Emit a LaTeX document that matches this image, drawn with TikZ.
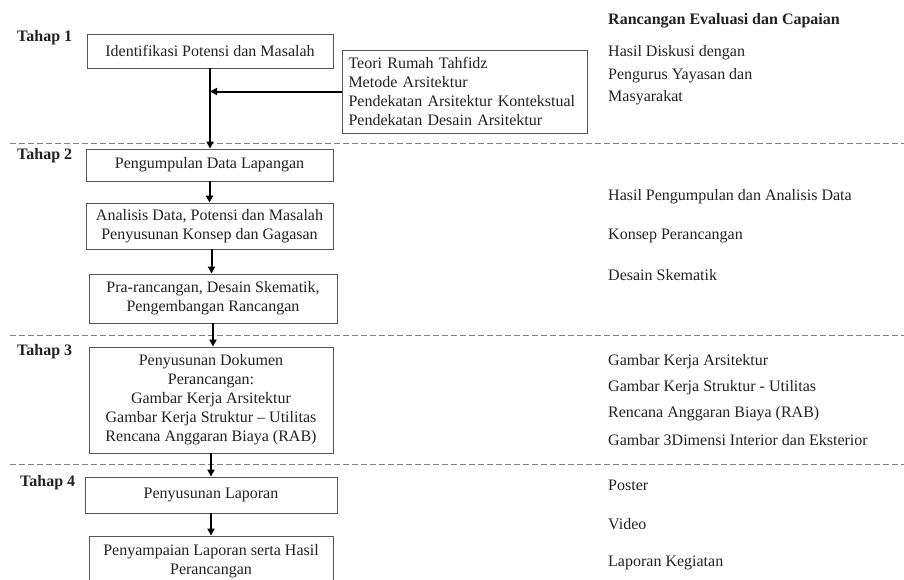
\documentclass[tikz,border=0pt]{standalone}
\usepackage{fontspec}
\setmainfont{Liberation Serif}
\usetikzlibrary{arrows.meta}
\definecolor{txt}{HTML}{222222}
\definecolor{boxline}{HTML}{555555}
\definecolor{dashc}{HTML}{808080}
\begin{document}
\begin{tikzpicture}[x=1pt,y=-1pt,
  every node/.style={text=txt,font=\fontsize{16}{19}\selectfont},
  box/.style={draw=boxline,line width=0.9pt,inner sep=0pt,align=center},
  arr/.style={line width=2pt,-{Triangle[length=7pt,width=7pt]}},
  sep/.style={dashc,line width=0.9pt,dash pattern=on 6pt off 3pt},
  tahap/.style={anchor=west,inner sep=0pt,font=\fontsize{16}{19}\selectfont\bfseries},
  res/.style={anchor=west,inner sep=0pt}]
\clip (0,0) rectangle (904,579);
\fill[white] (0,0) rectangle (904,579);
% separators
\draw[sep] (10,143) -- (904,143);
\draw[sep] (10,335) -- (904,335);
\draw[sep] (10,464) -- (904,464);
% stage labels
\node[tahap] (t1) at (17,38) {Tahap 1};
\node[tahap] (t2) at (17,156) {Tahap 2};
\node[tahap] (t3) at (17,352) {Tahap 3};
\node[tahap] (t4) at (20,483) {Tahap 4};
% boxes
\node[box,minimum width=246pt,minimum height=34pt] (b1) at (210,51) {Identifikasi Potensi dan Masalah};
\node[box,minimum width=245pt,minimum height=83pt,align=left,text width=232pt] (th) at (464.5,91.5)
  {Teori Rumah Tahfidz\\Metode Arsitektur\\Pendekatan Arsitektur Kontekstual\\Pendekatan Desain Arsitektur};
\node[box,minimum width=247pt,minimum height=32pt] (b2) at (209.5,165) {Pengumpulan Data Lapangan};
\node[box,minimum width=247pt,minimum height=46pt] (b3) at (209.5,226) {Analisis Data, Potensi dan Masalah\\Penyusunan Konsep dan Gagasan};
\node[box,minimum width=248pt,minimum height=49pt] (b4) at (213,298.5) {Pra-rancangan, Desain Skematik,\\Pengembangan Rancangan};
\node[box,minimum width=244pt,minimum height=106pt] (b5) at (211,400) {Penyusunan Dokumen\\Perancangan:\\Gambar Kerja Arsitektur\\Gambar Kerja Struktur -- Utilitas\\Rencana Anggaran Biaya (RAB)};
\node[box,minimum width=252pt,minimum height=36pt] (b6) at (211,495) {Penyusunan Laporan};
\node[box,minimum width=244pt,minimum height=50pt] (b7) at (211,561) {Penyampaian Laporan serta Hasil\\Perancangan};
% connectors
\draw[arr] (b1.south) -- (b1.south |- b2.north);
\draw[arr] (th.west) -- (th.west -| b1.south);
\draw[arr] (b2.south) -- (b2.south |- b3.north);
\draw[arr] (b3.south) ++(2,0) coordinate (c3) -- (c3 |- b4.north);
\draw[arr] (b4.south) -- (b4.south |- b5.north);
\draw[arr] (b5.south) -- (b5.south |- b6.north);
\draw[arr] (b6.south) -- (b6.south |- b7.north);
% right column
\node[res,font=\fontsize{16}{19}\selectfont\bfseries] (h) at (608,21) {Rancangan Evaluasi dan Capaian};
\node[res] (r1) at (608,53) {Hasil Diskusi dengan};
\node[res] (r2) at (608,76) {Pengurus Yayasan dan};
\node[res] (r3) at (608,98) {Masyarakat};
\node[res] (r4) at (608,197) {Hasil Pengumpulan dan Analisis Data};
\node[res] (r5) at (608,236) {Konsep Perancangan};
\node[res] (r6) at (608,275) {Desain Skematik};
\node[res] (r7) at (608,362) {Gambar Kerja Arsitektur};
\node[res] (r8) at (608,388) {Gambar Kerja Struktur - Utilitas};
\node[res] (r9) at (608,414) {Rencana Anggaran Biaya (RAB)};
\node[res] (r10) at (608,440) {Gambar 3Dimensi Interior dan Eksterior};
\node[res] (r11) at (608,485) {Poster};
\node[res] (r12) at (608,524) {Video};
\node[res] (r13) at (608,563) {Laporan Kegiatan};
\end{tikzpicture}
\end{document}
